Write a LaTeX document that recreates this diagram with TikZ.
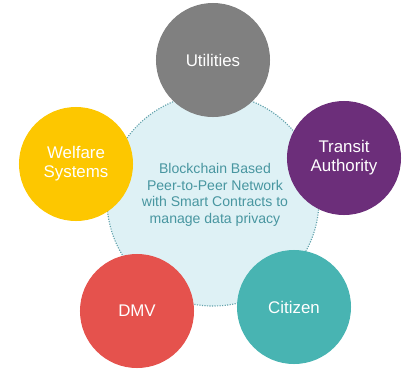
\documentclass[tikz,border=0pt]{standalone}
\usepackage{fontspec}
\setmainfont{Liberation Sans}
\usetikzlibrary{positioning}

\definecolor{hubfill}{RGB}{222,241,245}
\definecolor{hubline}{RGB}{95,160,170}
\definecolor{hubtext}{RGB}{72,150,160}
\definecolor{utilgray}{RGB}{128,128,128}
\definecolor{transitpurple}{RGB}{108,46,122}
\definecolor{citizenteal}{RGB}{72,180,178}
\definecolor{dmvred}{RGB}{229,82,77}
\definecolor{welfareyellow}{RGB}{253,199,0}

\tikzset{
  hub/.style={circle, fill=hubfill, draw=hubline, densely dotted, line width=0.8pt, minimum size=5.3cm, inner sep=0pt},
  party/.style={circle, fill=#1, minimum size=2.85cm, inner sep=0pt, text=white, align=center, font=\fontsize{12}{13.5}\selectfont},
  hubnote/.style={text=hubtext, align=center, font=\fontsize{10}{11.8}\selectfont}
}

\begin{document}
\begin{tikzpicture}[x=0.025cm, y=-0.025cm]
\useasboundingbox (0,0) rectangle (409,370);
\node[hub] (network) at (213,200) {};
\node[hubnote] (networknote) at (215,195) {Blockchain Based\\Peer-to-Peer Network\\with Smart Contracts to\\manage data privacy};
\node[party=utilgray] (utilities) at (213,60) {Utilities};
\node[party=transitpurple] (transit) at (344,158) {Transit\\Authority};
\node[party=citizenteal] (citizen) at (294,307) {Citizen};
\node[party=dmvred] (dmv) at (137,311) {DMV};
\node[party=welfareyellow] (welfare) at (76,164) {Welfare\\Systems};
\end{tikzpicture}
\end{document}
